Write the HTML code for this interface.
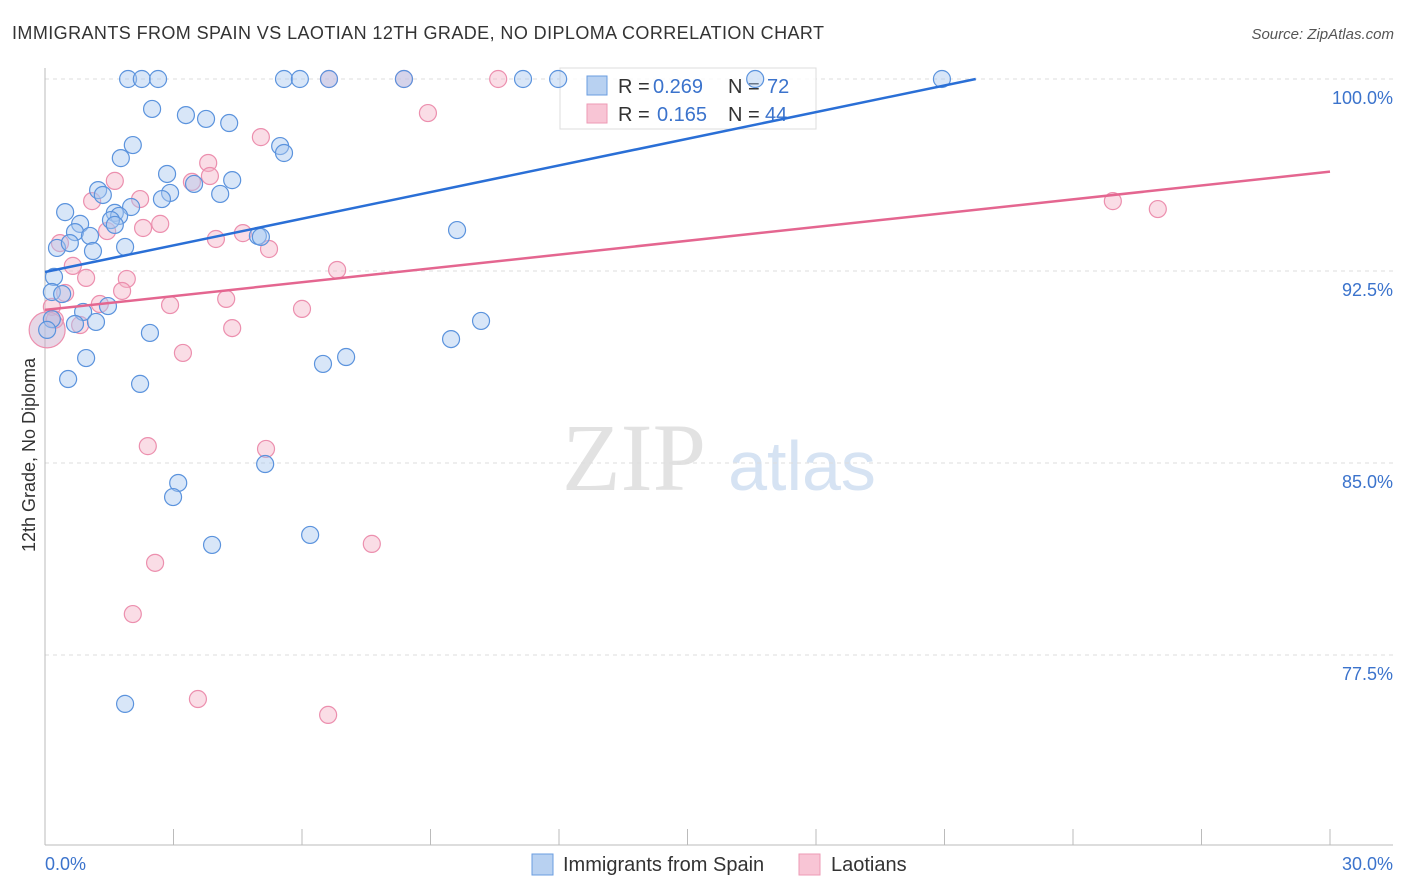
<!DOCTYPE html>
<html><head><meta charset="utf-8"><style>
body{margin:0;background:#fff;font-family:"Liberation Sans",sans-serif;}
svg{display:block}
</style></head><body>
<svg id="chart" width="1406" height="892" xmlns="http://www.w3.org/2000/svg">
<text x="12" y="39" font-size="18" fill="#333" textLength="812">IMMIGRANTS FROM SPAIN VS LAOTIAN 12TH GRADE, NO DIPLOMA CORRELATION CHART</text>
<text x="1394" y="39" font-size="15" fill="#555" font-style="italic" text-anchor="end">Source: ZipAtlas.com</text>
<text x="634" y="490" font-size="96" fill="#e2e2e2" font-family="Liberation Serif,serif" text-anchor="middle">ZIP</text>
<text x="802" y="490" font-size="70" fill="#d6e3f3" text-anchor="middle">atlas</text>
<text transform="translate(35,455) rotate(-90)" font-size="18" fill="#333" text-anchor="middle">12th Grade, No Diploma</text>
<g id="grid"></g><g id="axes"></g>
<g>
<rect x="560" y="68" width="256" height="61" fill="#fff" fill-opacity="0.85" stroke="#ddd"/>
<rect x="587" y="76" width="20" height="19" fill="#b8d1f1" stroke="#6a9de0"/>
<rect x="587" y="104" width="20" height="19" fill="#f8c5d5" stroke="#ee9ab5"/>
<text x="618" y="93" font-size="20" fill="#333">R = <tspan fill="#3b73cc" x="653">0.269</tspan><tspan x="728">N = </tspan><tspan fill="#3b73cc" x="767">72</tspan></text>
<text x="618" y="121" font-size="20" fill="#333">R = <tspan fill="#3b73cc" x="657">0.165</tspan><tspan x="728">N = </tspan><tspan fill="#3b73cc" x="765">44</tspan></text>
</g>
<g id="pts"></g><g id="trends"></g>
<g>
<rect x="532" y="854" width="21" height="21" fill="#b8d1f1" stroke="#6a9de0"/>
<text x="563" y="871" font-size="20" fill="#333">Immigrants from Spain</text>
<rect x="799" y="854" width="21" height="21" fill="#f8c5d5" stroke="#ee9ab5"/>
<text x="831" y="871" font-size="20" fill="#333">Laotians</text>
</g>
</svg>
<script>
const yTicks=[100,92.5,85,77.5];
const yTickLabels=["100.0%","92.5%","85.0%","77.5%"];
const xTickLabels=["0.0%","30.0%"];
const spainX=[1.94,2.26,2.64,5.58,5.95,11.16,11.98,16.58,20.94,6.63,8.38,2.50,3.29,3.76,4.30,2.05,1.77,5.49,5.58,2.85,4.37,1.24,1.35,3.48,4.09,2.92,2.73,2.01,0.47,1.63,1.73,1.54,1.63,0.82,0.70,1.05,4.97,5.04,9.62,0.28,0.58,1.12,1.87,0.21,0.16,0.40,0.89,1.47,0.16,0.70,1.19,10.18,9.48,2.45,0.96,6.49,7.03,0.54,2.22,5.14,3.11,2.99,3.90,6.19,1.87,0.05];
const spainY=[100,100,100,100,100,100,100,100,100,100,100,98.83,98.59,98.44,98.28,97.42,96.91,97.38,97.11,96.29,96.05,95.66,95.47,95.90,95.51,95.55,95.31,95.0,94.8,94.77,94.65,94.49,94.30,94.34,94.02,93.87,93.87,93.83,94.1,93.4,93.59,93.28,93.44,92.27,91.68,91.6,90.9,91.13,90.62,90.43,90.51,90.55,89.84,90.08,89.1,88.87,89.14,88.28,88.09,84.96,84.22,83.67,81.8,82.19,75.59,90.2];
const laoX=[6.63,8.38,10.58,8.94,5.04,3.81,3.85,1.63,3.43,2.22,1.10,2.69,2.29,1.45,4.62,3.99,5.23,0.35,0.65,6.82,0.96,1.91,1.80,4.23,0.47,2.92,1.28,6.00,0.16,0.82,4.37,3.22,2.40,5.16,7.63,2.57,2.05,3.57,6.61,24.93,25.98,0.23,0.05];
const laoY=[100,100,100,98.67,97.73,96.72,96.21,96.02,95.98,95.31,95.23,94.34,94.18,94.06,93.98,93.75,93.36,93.59,92.7,92.54,92.23,92.19,91.72,91.41,91.64,91.17,91.21,91.02,91.1,90.39,90.27,89.3,85.66,85.55,81.84,81.1,79.1,75.78,75.16,95.23,94.92,90.6,90.2];
const spainTrend=[92.46,0.347];
const laoTrend=[90.98,0.18];
const NS="http://www.w3.org/2000/svg";
const X=v=>45+v/30*1285, Y=v=>79+(100-v)*25.6;
function mk(t,a,p){const e=document.createElementNS(NS,t);for(const k in a)e.setAttribute(k,a[k]);p.appendChild(e);return e;}
const grid=document.getElementById('grid'),axes=document.getElementById('axes');
yTicks.forEach((t,i)=>{
 const l=mk('line',{x1:45,x2:1393,y1:Y(t),y2:Y(t),stroke:'#ddd','stroke-dasharray':'4,4'},grid);
 
 
 const tx=mk('text',{x:1393,y:Y(t)+25,'font-size':18,fill:'#3b73cc','text-anchor':'end'},axes);
 tx.textContent=yTickLabels[i];
 
 
});
const ax=mk('line',{x1:45,x2:45,y1:68,y2:845,stroke:'#bbb'},axes);


const bx=mk('line',{x1:45,x2:1393,y1:845,y2:845,stroke:'#bbb'},axes);


for(let i=0;i<=10;i++){
 const t=mk('line',{x1:X(i*3),x2:X(i*3),y1:829,y2:845,stroke:'#bbb'},axes);
 
 
}
[[0,'start',45],[30,'end',1393]].forEach((d,i)=>{
 const t=mk('text',{x:d[2],y:870,'font-size':18,fill:'#3b73cc','text-anchor':d[1]},axes);
 t.textContent=xTickLabels[i];
 
 
});
const pts=document.getElementById('pts');
laoX.forEach((v,i)=>{
 const big=(v<0.1);
 const c=mk('circle',{cx:X(v),cy:Y(laoY[i]),r:big?18:8.5,fill:big?'#c9a6c8':'#f5b3c8','fill-opacity':0.45,stroke:'#ec8fae','stroke-width':1.2},pts);
 
 
});
spainX.forEach((v,i)=>{
 const c=mk('circle',{cx:X(v),cy:Y(spainY[i]),r:8.5,fill:'#a9c7ef','fill-opacity':0.45,stroke:'#5b93dd','stroke-width':1.2},pts);
 
 
});
const tr=document.getElementById('trends');
const xe=Math.min(30,(100-spainTrend[0])/spainTrend[1]);
const l1=mk('line',{x1:X(0),y1:Y(spainTrend[0]),x2:X(xe),y2:Y(spainTrend[0]+spainTrend[1]*xe),stroke:'#2a6fd6','stroke-width':2.5},tr);


const l2=mk('line',{x1:X(0),y1:Y(laoTrend[0]),x2:X(30),y2:Y(laoTrend[0]+laoTrend[1]*30),stroke:'#e46690','stroke-width':2.5},tr);


</script>
</body></html>
